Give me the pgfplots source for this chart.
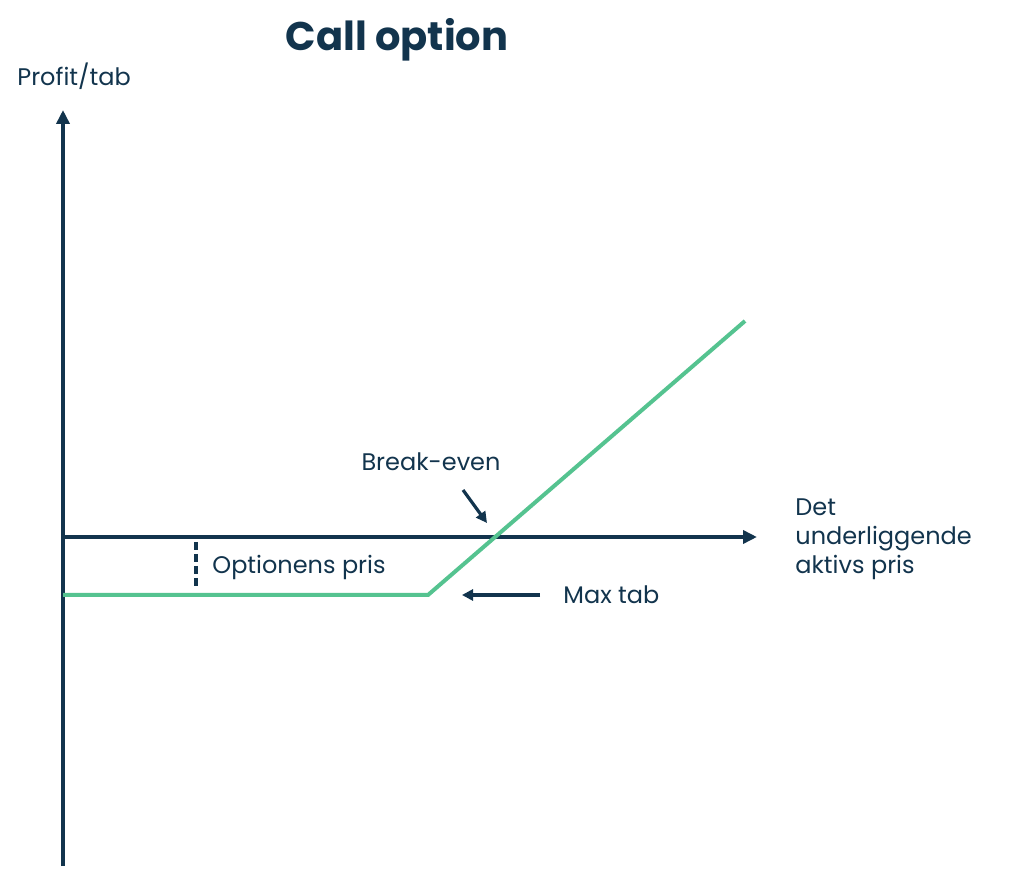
\documentclass[border=0pt]{standalone}
\usepackage{pgfplots}
\pgfplotsset{compat=1.18}
\usepackage{fontspec}
\setmainfont{Poppins}
\usetikzlibrary{arrows.meta}
\definecolor{navy}{HTML}{12344D}
\definecolor{mint}{HTML}{55C390}
\begin{document}
\begin{tikzpicture}
\begin{axis}[
  width=512pt, height=434.5pt, scale only axis,
  xmin=-63, xmax=961, ymin=-332, ymax=537,
  axis lines=none, clip=false,
]
\path[use as bounding box] (axis cs:-63,-332) rectangle (axis cs:961,537);
% axes
\addplot[navy, line width=2pt, -{Triangle[length=7pt,width=6.5pt]}] coordinates {(0,-329) (0,427)};
\addplot[navy, line width=2pt, -{Triangle[length=7pt,width=6.5pt]}] coordinates {(0,0) (694,0)};
% payoff
\addplot[mint, line width=2pt] coordinates {(0,-58) (365,-58) (682,216)};
% option price marker
\addplot[navy, line width=1.6pt, dash pattern=on 4pt off 2pt] coordinates {(133,-5) (133,-52)};
% arrows
\addplot[navy, line width=1.6pt, -{Triangle[length=5.5pt,width=5.5pt]}] coordinates {(477,-58) (399,-58)};
\addplot[navy, line width=1.6pt, -{Triangle[length=5.5pt,width=5.5pt]}] coordinates {(400,47) (424,14)};
% texts
\begin{scope}[every node/.style={text=navy, inner sep=0pt, font=\fontsize{12}{14.5}\selectfont}]
\node[anchor=west] at (axis cs:149,-30) {Optionens pris};
\node[anchor=west] at (axis cs:500,-58) {Max tab};
\node at (axis cs:368,75) {Break-even};
\node[anchor=west, align=left] at (axis cs:732,-2) {Det\\underliggende\\aktivs pris};
\node[anchor=west] at (axis cs:-46,461) {Profit/tab};
\node[font=\fontsize{20}{24}\bfseries\selectfont] at (axis cs:334,497) {Call option};
\end{scope}
\end{axis}
\end{tikzpicture}
\end{document}
